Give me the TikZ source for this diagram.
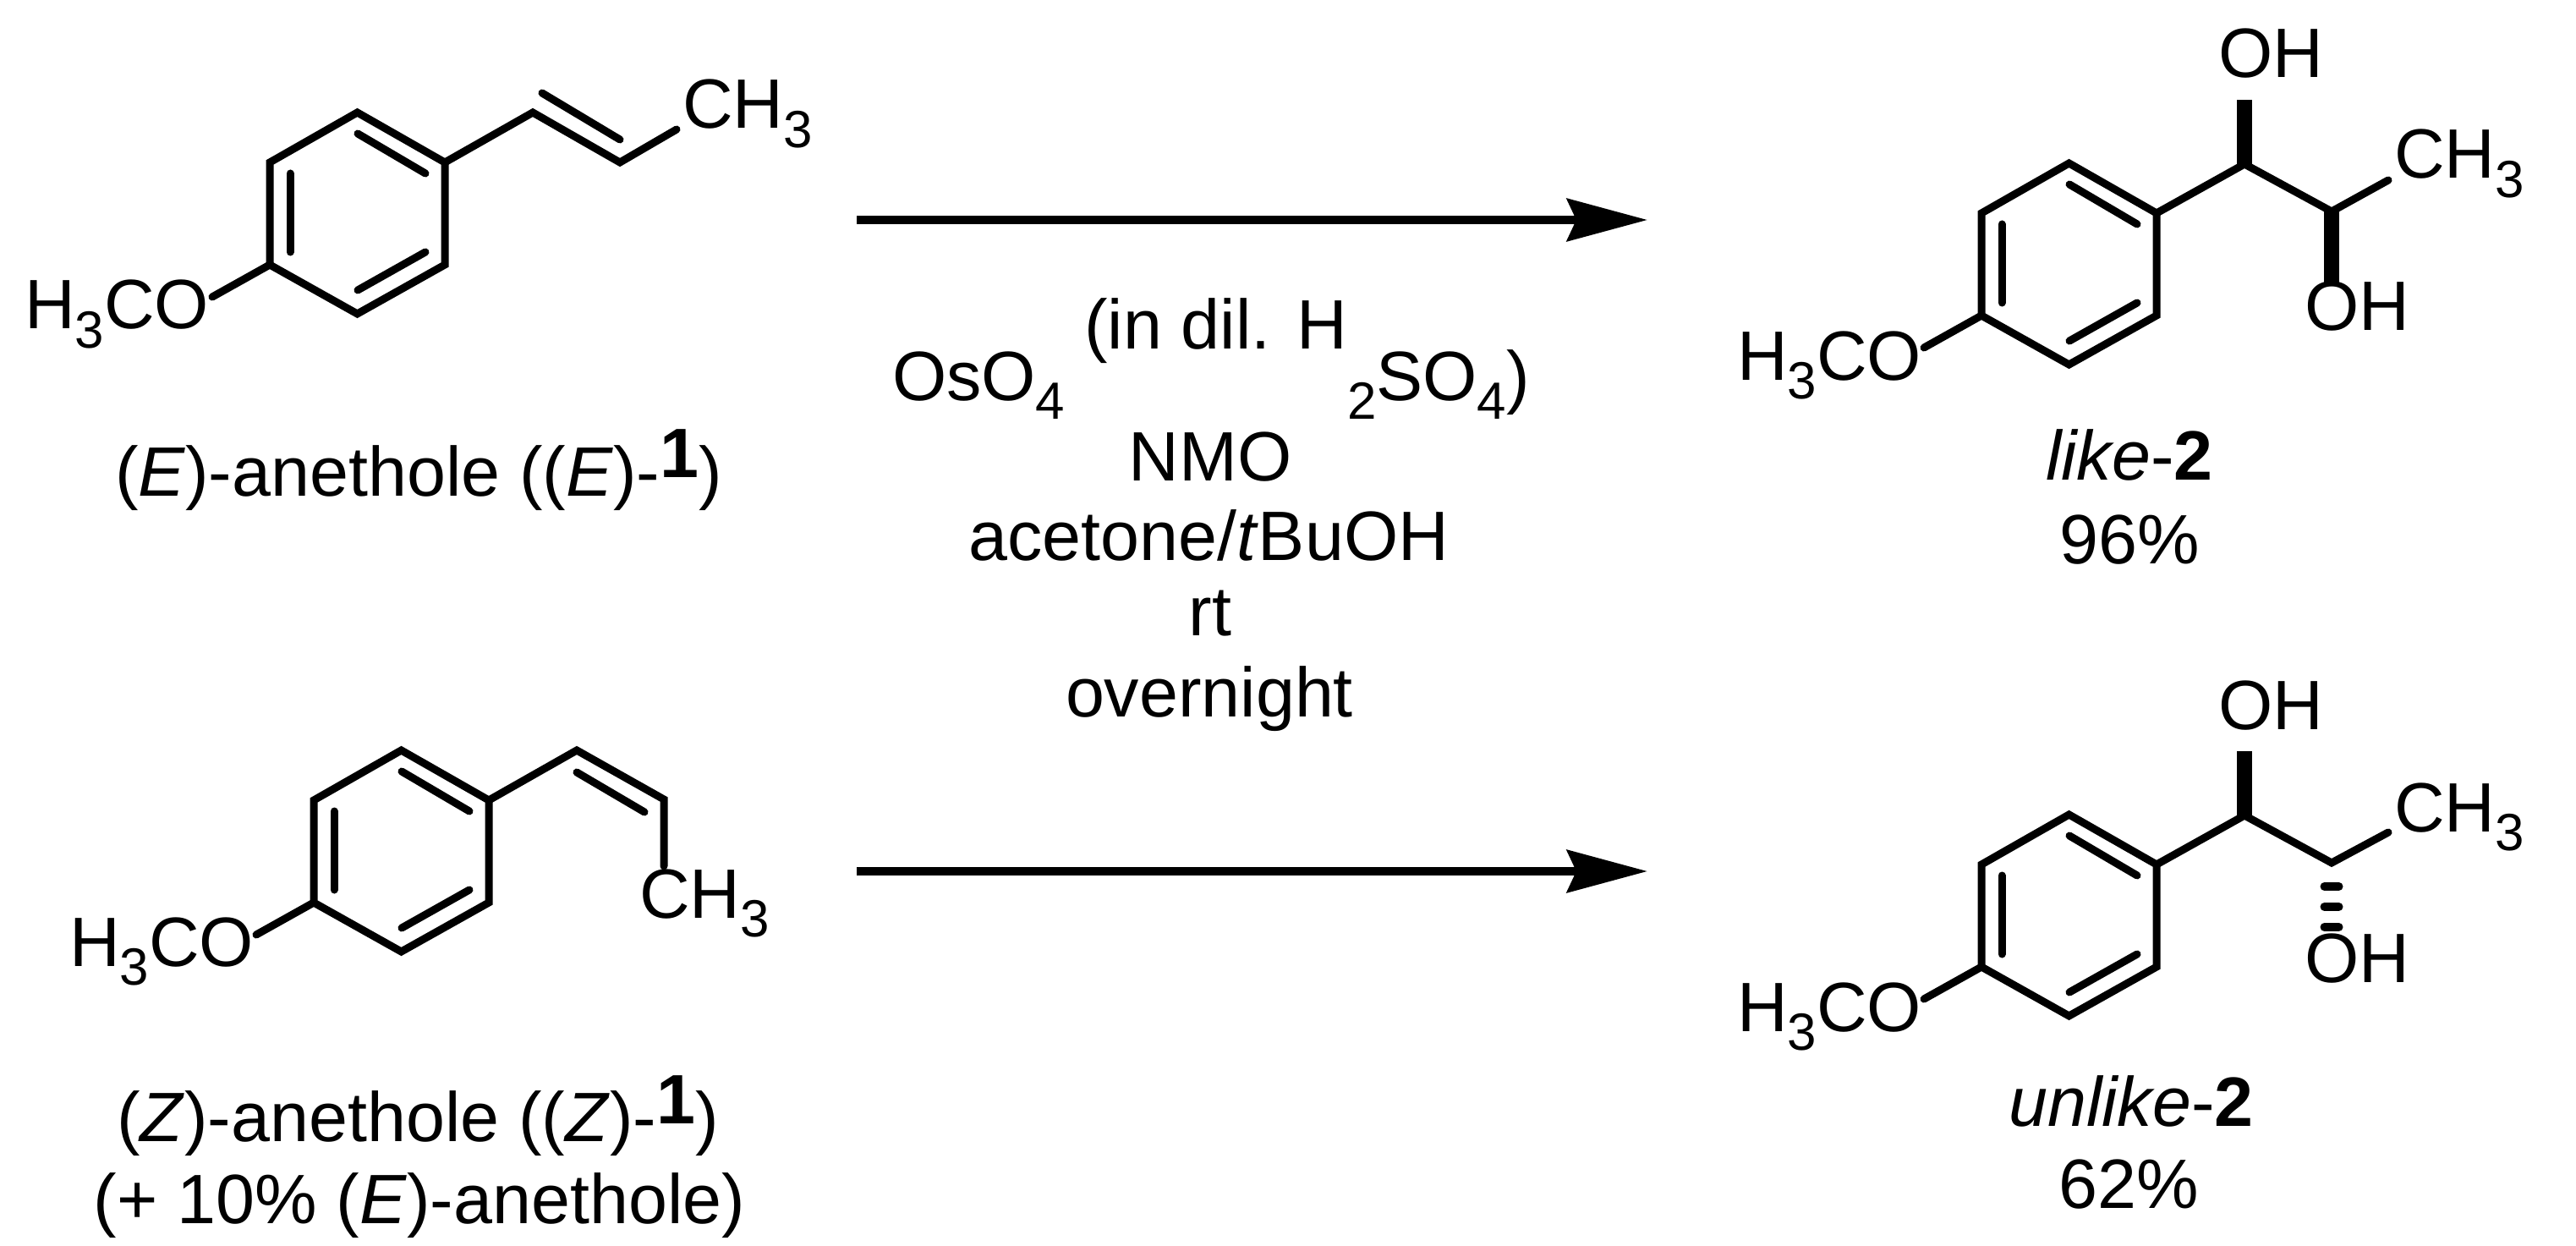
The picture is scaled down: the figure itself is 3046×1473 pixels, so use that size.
\documentclass[tikz,border=0pt]{standalone}
\usepackage{fontspec}
\setmainfont{Liberation Sans}
\usetikzlibrary{arrows.meta,calc}
\newcommand\sbs[1]{\raisebox{-0.22cm}{\fontsize{17.6}{20}\selectfont #1}}
\newcommand\upb[1]{\raisebox{0.21cm}{\textbf{#1}}}
\tikzset{
  bond/.style={line width=0.09cm,line cap=round,line join=miter,miter limit=10},
  inner bond/.style={line width=0.09cm,line cap=round},
  wedge bond/.style={fill=black,draw=none},
  hash bond/.style={line width=0.1cm,line cap=round},
  reaction arrow/.style={line width=0.1cm,-{Stealth[length=0.95cm,width=0.5cm,inset=0.11cm]}},
  atom/.style={inner sep=0pt,outer sep=0pt,font=\fontsize{23.5}{28}\selectfont,anchor=base west},
  captext/.style={inner sep=0pt,outer sep=0pt,font=\fontsize{23.5}{28}\selectfont,anchor=base,align=center},
}
% ring: prefix, left x, top y
\newcommand\anisyl[3]{%
  \coordinate (#1t) at (#2+103.5,#3);
  \coordinate (#1ur) at (#2+207,#3+59);
  \coordinate (#1lr) at (#2+207,#3+180);
  \coordinate (#1b) at (#2+103.5,#3+238);
  \coordinate (#1ll) at (#2,#3+180);
  \coordinate (#1ul) at (#2,#3+59);
  \coordinate (#1ome) at (#2-68,#3+218);
  \coordinate (#1ia) at (#2+24,#3+72);
  \coordinate (#1ib) at (#2+24,#3+165);
  \coordinate (#1ic) at (#2+104,#3+25);
  \coordinate (#1id) at (#2+184,#3+72);
  \coordinate (#1ie) at (#2+184,#3+165);
  \coordinate (#1if) at (#2+104,#3+210);
  \draw[bond] (#1t) -- (#1ur) -- (#1lr) -- (#1b) -- (#1ll) -- (#1ul) -- cycle;
  \draw[bond] (#1ll) -- (#1ome);
  \draw[inner bond] (#1ia) -- (#1ib);
  \draw[inner bond] (#1ic) -- (#1id);
  \draw[inner bond] (#1ie) -- (#1if);
}
\begin{document}
\begin{tikzpicture}[x=0.01cm,y=-0.01cm]
\useasboundingbox (0,0) rectangle (3046,1473);
\fill[white] (0,0) rectangle (3046,1473);

% (E)-anethole
\anisyl{e}{319}{133}
\coordinate (ev1) at (630,133);
\coordinate (ev2) at (733,192);
\coordinate (ev3) at (800,153);
\coordinate (evi1) at (641,110);
\coordinate (evi2) at (733,165);
\draw[bond] (eur) -- (ev1) -- (ev2) -- (ev3);
\draw[inner bond] (evi1) -- (evi2);
\node[atom] (eomeL) at (29,389) {H\sbs{3}CO};
\node[atom] (ech) at (807,152) {CH\sbs{3}};
\node[captext] (ecap) at (495,586) {(\textit{E})-anethole ((\textit{E})-\upb{1})};

% (Z)-anethole
\anisyl{z}{371}{887}
\coordinate (zv1) at (682,887);
\coordinate (zv2) at (785,945);
\coordinate (zv3) at (785,1024);
\coordinate (zvi1) at (682,913);
\coordinate (zvi2) at (762,960);
\draw[bond] (zur) -- (zv1) -- (zv2) -- (zv3);
\draw[inner bond] (zvi1) -- (zvi2);
\node[atom] (zomeL) at (82,1142) {H\sbs{3}CO};
\node[atom] (zch) at (756,1085) {CH\sbs{3}};
\node[captext] (zcap) at (494,1349) {(\textit{Z})-anethole ((\textit{Z})-\upb{1})};
\node[captext] (zcapb) at (496,1446) {(+ 10\% (\textit{E})-anethole)};

% arrows
\coordinate (a1s) at (1013,260);
\coordinate (a1e) at (1948,260);
\coordinate (a2s) at (1013,1030);
\coordinate (a2e) at (1948,1030);
\draw[reaction arrow] (a1s) -- (a1e);
\draw[reaction arrow] (a2s) -- (a2e);

% reagents
\node[atom] (rg1) at (1055,473) {OsO\sbs{4} \raisebox{0.6cm}{(in dil. H}\sbs{2}SO\sbs{4})};
\node[captext] (rg2) at (1431,568) {NMO};
\node[captext] (rg3) at (1429,662) {acetone/\textit{t}BuOH};
\node[captext] (rg4) at (1431,751) {rt};
\node[captext] (rg5) at (1430,847) {overnight};

% like-2
\anisyl{l}{2343}{193}
\coordinate (lc1) at (2654,194);
\coordinate (lc2) at (2757,250);
\coordinate (lme) at (2824,213);
\coordinate (lw1) at (2654,118);
\coordinate (lw2) at (2757,335);
\draw[bond] (lur) -- (lc1) -- (lc2) -- (lme);
\fill[wedge bond] ($(lc1)+(-9,0)$) -- ($(lw1)+(-9,0)$) -- ($(lw1)+(9,0)$) -- ($(lc1)+(9,0)$) -- cycle;
\fill[wedge bond] ($(lc2)+(-9,0)$) -- ($(lw2)+(-9,0)$) -- ($(lw2)+(9,0)$) -- ($(lc2)+(9,0)$) -- cycle;
\node[atom] (lomeL) at (2054,449) {H\sbs{3}CO};
\node[atom] (loh1) at (2623,92) {OH};
\node[atom] (loh2) at (2725,391) {OH};
\node[atom] (lch) at (2831,211) {CH\sbs{3}};
\node[captext] (lcap) at (2518,567) {\textit{like}-\textbf{2}};
\node[captext] (lyld) at (2518,666) {96\%};

% unlike-2
\anisyl{u}{2343}{963}
\coordinate (uc1) at (2654,964);
\coordinate (uc2) at (2757,1020);
\coordinate (ume) at (2824,984);
\coordinate (uw1) at (2654,888);
\draw[bond] (uur) -- (uc1) -- (uc2) -- (ume);
\fill[wedge bond] ($(uc1)+(-9,0)$) -- ($(uw1)+(-9,0)$) -- ($(uw1)+(9,0)$) -- ($(uc1)+(9,0)$) -- cycle;
\coordinate (uh1) at (2757,1048);
\coordinate (uh2) at (2757,1072);
\coordinate (uh3) at (2757,1096);
\foreach \p in {uh1,uh2,uh3}
  \draw[hash bond] ($(\p)+(-8.5,0)$) -- ($(\p)+(8.5,0)$);
\node[atom] (uomeL) at (2054,1219) {H\sbs{3}CO};
\node[atom] (uoh1) at (2623,862) {OH};
\node[atom] (uoh2) at (2725,1161) {OH};
\node[atom] (uch) at (2831,983) {CH\sbs{3}};
\node[captext] (ucap) at (2520,1331) {\textit{unlike}-\textbf{2}};
\node[captext] (uyld) at (2517,1428) {62\%};
\end{tikzpicture}
\end{document}
